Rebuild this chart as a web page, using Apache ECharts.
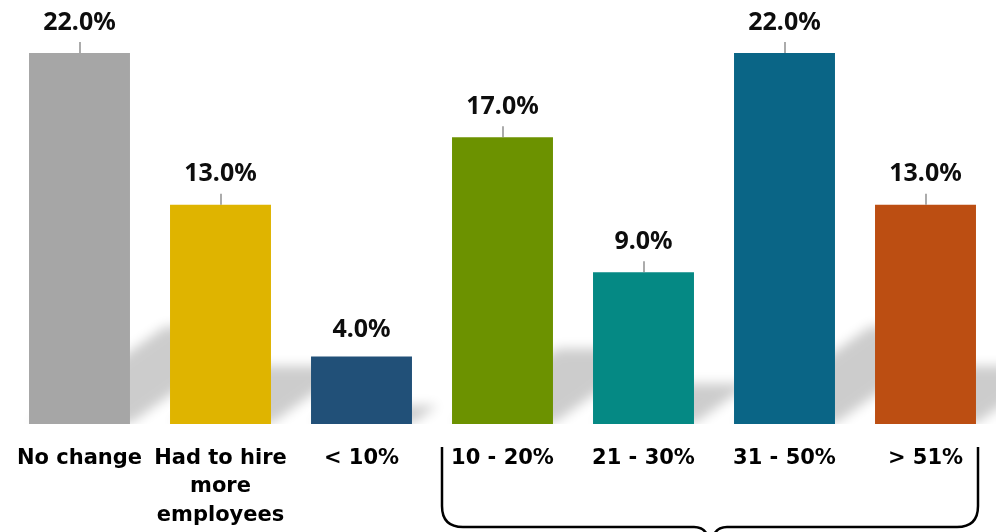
<!DOCTYPE html>
<html>
<head>
<meta charset="utf-8">
<script src="https://cdn.jsdelivr.net/npm/echarts@6/dist/echarts.min.js"></script>
<style>
  html, body { margin: 0; padding: 0; background: #ffffff; }
  #chart { width: 1004px; height: 532px; }
</style>
</head>
<body>
<div id="chart"></div>
<script>
// Share of respondents by change in headcount
const categories = ['No change', 'Had to hire\nmore\nemployees', '< 10%', '10 - 20%', '21 - 30%', '31 - 50%', '> 51%'];
const shares = [22, 13, 4, 17, 9, 22, 13];
const barColors = ['#a6a6a6', '#dfb400', '#215078', '#6c9200', '#058984', '#0a6586', '#bc4e12'];
// categories whose value label sits close to the bar without a leader line
const labelsWithoutLeader = ['< 10%'];

const BAR_GAP = '28.4%';
// perspective shadow: squashed vertically and skewed 20 degrees to the right
const SHADOW_SCALE_Y = 0.26;
const SHADOW_SKEW = Math.tan(20 * Math.PI / 180);
const SHADOW_BLUR = 12;
const OFFSCREEN = 3000;  // shape is drawn off-canvas so only its blurred shadow shows

const chart = echarts.init(document.getElementById('chart'), null, { renderer: 'canvas' });

function renderShadow(params, api) {
  const i = api.value(0);
  const base = api.coord([i, 0]);
  const top = api.coord([i, api.value(1)]);
  const band = api.size([1, 0])[0];
  const w = band * (1 - parseFloat(BAR_GAP) / 100);
  const h = base[1] - top[1];
  const xl = base[0] - w / 2 + 1, xr = base[0] + w / 2 + 1;
  const y0 = base[1] - 1;
  const rise = h * SHADOW_SCALE_Y;
  const dx = h * SHADOW_SKEW;
  const pts = [[xl, y0], [xr, y0], [xr + dx, y0 - rise], [xl + dx, y0 - rise]]
    .map(p => [p[0], p[1] - OFFSCREEN]);
  return {
    type: 'polygon',
    shape: { points: pts },
    style: {
      fill: '#000000',
      shadowBlur: SHADOW_BLUR,
      shadowColor: 'rgba(0,0,0,0.2)',
      shadowOffsetX: 0,
      shadowOffsetY: OFFSCREEN
    }
  };
}

// short grey leader from the value label down to the bar top
function renderLeader(params, api) {
  const i = api.value(0);
  if (labelsWithoutLeader.indexOf(categories[i]) >= 0) return null;
  const top = api.coord([i, api.value(1)]);
  const x = Math.round(top[0]);
  return {
    type: 'line',
    shape: { x1: x, y1: top[1] - 11, x2: x, y2: top[1] },
    style: { stroke: '#7f7f7f', lineWidth: 1.3 }
  };
}

const points = shares.map((v, i) => [i, v]);

// curly brace grouping the percentage ranges
const braceStyle = { fill: null, stroke: '#000000', lineWidth: 2.5 };
const braceParts = [
  { type: 'line', shape: { x1: 442, y1: 447, x2: 442, y2: 506 } },
  { type: 'bezierCurve', shape: { x1: 442, y1: 506, cpx1: 442, cpy1: 527, x2: 463, y2: 527 } },
  { type: 'line', shape: { x1: 463, y1: 527, x2: 694, y2: 527 } },
  { type: 'bezierCurve', shape: { x1: 694, y1: 527, cpx1: 706, cpy1: 527, x2: 709, y2: 540 } },
  { type: 'bezierCurve', shape: { x1: 712, y1: 540, cpx1: 715, cpy1: 527, x2: 727, y2: 527 } },
  { type: 'line', shape: { x1: 727, y1: 527, x2: 957, y2: 527 } },
  { type: 'bezierCurve', shape: { x1: 957, y1: 527, cpx1: 978, cpy1: 527, x2: 978, y2: 506 } },
  { type: 'line', shape: { x1: 978, y1: 506, x2: 978, y2: 447 } }
].map(p => Object.assign(p, { silent: true, style: braceStyle }));

chart.setOption({
  animation: false,
  backgroundColor: '#ffffff',
  grid: { left: 9, right: 8, top: 53, bottom: 108, containLabel: false },
  xAxis: {
    type: 'category',
    data: categories,
    axisLine: { show: false },
    axisTick: { show: false },
    axisLabel: {
      interval: 0,
      margin: 20,
      color: '#000000',
      fontFamily: 'DejaVu Sans',
      fontWeight: 'bold',
      fontSize: 21,
      lineHeight: 28.5
    }
  },
  yAxis: {
    type: 'value',
    min: 0,
    max: 22,
    show: false,
    splitLine: { show: false }
  },
  series: [
    {
      type: 'custom',
      z: 1,
      clip: true,
      renderItem: renderShadow,
      data: points,
      silent: true
    },
    {
      type: 'bar',
      z: 3,
      barCategoryGap: BAR_GAP,
      data: shares.map((v, i) => ({
        value: v,
        itemStyle: { color: barColors[i] },
        label: { distance: labelsWithoutLeader.indexOf(categories[i]) >= 0 ? 14 : 18 }
      })),
      label: {
        show: true,
        position: 'top',
        formatter: p => p.value.toFixed(1) + '%',
        color: '#0d0d0d',
        fontFamily: 'Noto Sans',
        fontWeight: 'bold',
        fontSize: 25
      }
    },
    {
      type: 'custom',
      z: 4,
      clip: false,
      renderItem: renderLeader,
      data: points,
      silent: true
    }
  ],
  graphic: braceParts
});
</script>
</body>
</html>
